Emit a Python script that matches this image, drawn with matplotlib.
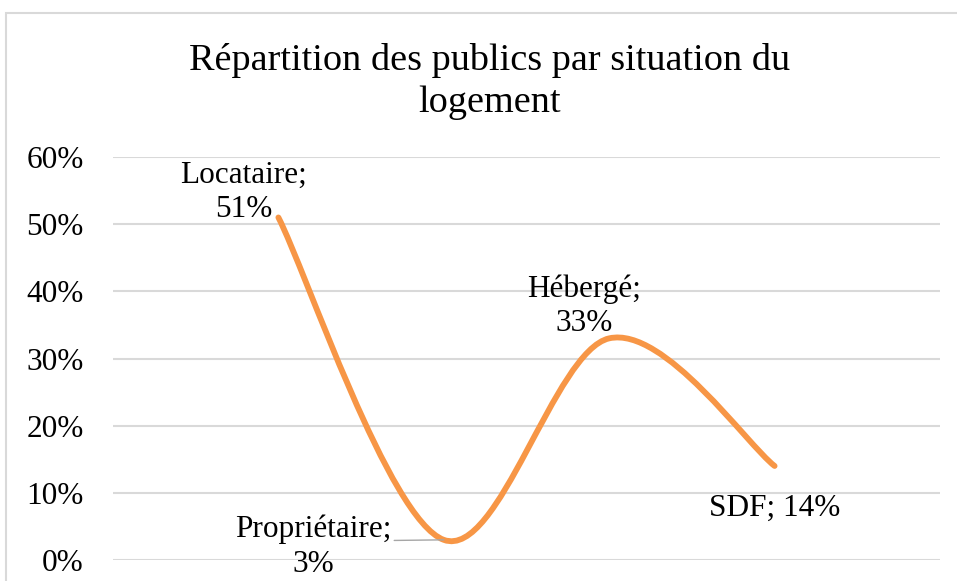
import matplotlib
matplotlib.use("Agg")
import matplotlib.pyplot as plt
from matplotlib.path import Path
from matplotlib.patches import PathPatch, Rectangle
from matplotlib.ticker import FuncFormatter

categories = ["Locataire", "Propriétaire", "Hébergé", "SDF"]
values = [0.51, 0.03, 0.33, 0.14]
yticks = [0.0, 0.1, 0.2, 0.3, 0.4, 0.5, 0.6]
title = "Répartition des publics par situation du\nlogement"

plt.rcParams['font.family'] = ['Liberation Serif', 'DejaVu Serif']

W, H = 957, 581
fig = plt.figure(figsize=(W / 100, H / 100), dpi=100)
fig.patch.set_facecolor('white')

# chart frame
fig.add_artist(Rectangle((6 / W, -0.2), 1.2, 1.2 - 13 / H, transform=fig.transFigure,
                         fill=False, edgecolor='#d9d9d9', linewidth=1.5))

ax = fig.add_axes([113 / W, (H - 560) / H, (940 - 113) / W, (560 - 157) / H])
ax.set_xlim(-1, 4)
ax.set_ylim(0, 0.6)
for s in ax.spines.values():
    s.set_visible(False)
ax.set_xticks([])
ax.set_yticks(yticks)
ax.yaxis.set_major_formatter(FuncFormatter(lambda v, p: f"{v*100:.0f}%"))
ax.tick_params(axis='y', length=0, pad=21, labelsize=22.5, labelcolor='black')
ax.grid(axis='y', color='#d9d9d9', linewidth=1.5)
ax.set_axisbelow(True)

# smoothed line (Bezier, Catmull-Rom style like Excel)
xs = list(range(len(values)))
pts = list(zip(xs, values))
verts = [pts[0]]
codes = [Path.MOVETO]
n = len(pts)
for i in range(n - 1):
    p0 = pts[i - 1] if i > 0 else pts[i]
    p1 = pts[i]
    p2 = pts[i + 1]
    p3 = pts[i + 2] if i + 2 < n else pts[i + 1]
    c1 = (p1[0] + (p2[0] - p0[0]) / 6, p1[1] + (p2[1] - p0[1]) / 6)
    c2 = (p2[0] - (p3[0] - p1[0]) / 6, p2[1] - (p3[1] - p1[1]) / 6)
    verts += [c1, c2, p2]
    codes += [Path.CURVE4] * 3
ax.add_patch(PathPatch(Path(verts, codes), facecolor='none', edgecolor='#F79646',
                       linewidth=4.2, capstyle='round', joinstyle='round', zorder=3))

# data labels
lab_kw = dict(fontsize=22.5, color='black', linespacing=1.24, zorder=4)
ax.annotate(f"{categories[0]};\n{values[0]*100:.0f}%", (xs[0], values[0]),
            xytext=(-25, -5), textcoords='offset points', ha='center', va='bottom', **lab_kw)
ax.annotate(f"{categories[1]};\n{values[1]*100:.0f}%", (xs[1], values[1]),
            xytext=(-94, -28), textcoords='offset points', ha='center', va='bottom',
            arrowprops=dict(arrowstyle='-', color='#a6a6a6', linewidth=1,
                            shrinkA=0, shrinkB=0, relpos=(1.0, 0.6)), **lab_kw)
ax.annotate(f"{categories[2]};\n{values[2]*100:.0f}%", (xs[2], values[2]),
            xytext=(-18, 0), textcoords='offset points', ha='center', va='bottom', **lab_kw)
ax.annotate(f"{categories[3]}; {values[3]*100:.0f}%", (xs[3], values[3]),
            xytext=(0, -20), textcoords='offset points', ha='center', va='top', **lab_kw)

fig.text(490 / W, 1 - 43 / H, title, ha='center', va='top', fontsize=27.5,
         linespacing=1.3, color='black')

fig.savefig("out.png", dpi=100)
